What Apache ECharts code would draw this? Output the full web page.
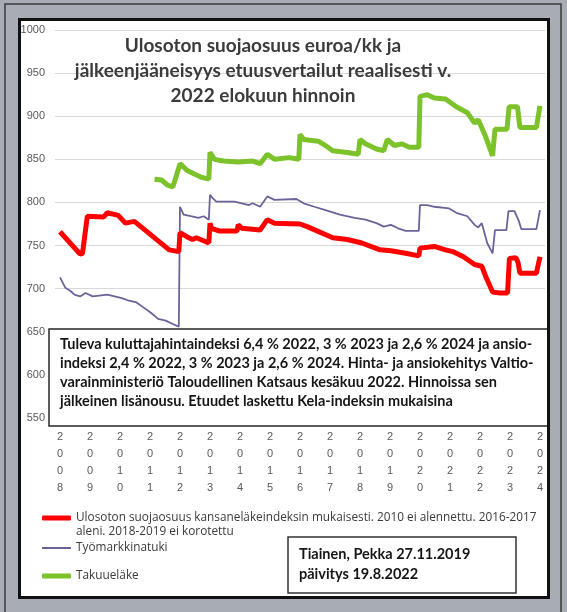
<!DOCTYPE html>
<html>
<head>
<meta charset="utf-8">
<script src="https://cdn.jsdelivr.net/npm/echarts@6/dist/echarts.min.js"></script>
<style>
html,body{margin:0;padding:0;background:#a8adb5;}
#chart{width:567px;height:612px;}
</style>
</head>
<body>
<div id="chart"></div>
<script>
// Tick labels (years) on the x axis
const yearTicks = [2008,2009,2010,2011,2012,2013,2014,2015,2016,2017,2018,2019,2020,2021,2022,2023,2024];

// Series: [year (decimal), euro/month]
const suojaosuus = [
  [2008.0,766],[2008.67,740],[2008.75,741],[2008.91,784],[2009.45,783],[2009.58,788],[2009.94,785],
  [2010.18,776],[2010.48,778],[2011.64,745],[2011.96,743],[2012.0,765],[2012.24,760],[2012.42,757],
  [2012.55,759],[2012.96,753],[2013.0,776],[2013.05,770],[2013.3,767],[2013.9,767],[2013.94,774],
  [2014.06,770],[2014.67,768],[2014.91,780],[2015.15,776],[2016.0,775],[2016.24,772],[2017.09,759],
  [2017.58,757],[2018.06,753],[2018.67,745],[2019.03,744],[2019.52,741],[2019.96,738],[2020.0,747],
  [2020.48,749],[2020.85,745],[2021.09,743],[2021.45,737],[2021.82,728],[2022.06,726],[2022.18,715],
  [2022.42,696],[2022.67,695],[2022.92,695],[2022.98,735],[2023.2,736],[2023.27,730],[2023.33,718],
  [2023.88,718],[2024.0,737]
];
const tyomarkkinatuki = [
  [2008.0,713],[2008.18,701],[2008.36,697],[2008.48,693],[2008.67,691],[2008.85,695],[2009.09,691],
  [2009.58,693],[2009.82,691],[2010.06,689],[2010.3,686],[2010.55,684],[2010.79,678],[2011.03,672],
  [2011.27,665],[2011.52,663],[2011.76,659],[2011.96,656],[2012.0,795],[2012.12,786],[2012.36,784],
  [2012.61,782],[2012.79,784],[2012.96,780],[2013.0,809],[2013.09,805],[2013.21,801],[2013.82,801],
  [2014.06,799],[2014.3,797],[2014.42,799],[2014.67,795],[2014.91,807],[2015.15,803],[2015.88,804],
  [2016.12,799],[2016.48,795],[2016.85,791],[2017.33,786],[2017.82,782],[2018.18,780],[2018.55,776],
  [2018.79,772],[2019.03,774],[2019.27,770],[2019.52,767],[2019.96,767],[2020.0,797],[2020.06,799],
  [2020.24,797],[2020.48,795],[2020.97,793],[2021.21,788],[2021.58,784],[2021.82,774],[2021.94,771],
  [2022.06,776],[2022.24,753],[2022.42,741],[2022.5,768],[2022.88,768],[2022.95,790],[2023.15,790],
  [2023.3,778],[2023.38,769],[2023.88,769],[2024.0,791]
];
const takuuelake = [
  [2011.15,827],[2011.39,826],[2011.58,820],[2011.76,818],[2011.88,831],[2012.0,845],[2012.24,837],
  [2012.48,833],[2012.73,829],[2012.96,827],[2013.0,858],[2013.15,850],[2013.45,848],[2013.94,847],
  [2014.42,848],[2014.67,845],[2014.91,856],[2015.15,850],[2015.64,852],[2015.96,850],[2016.0,879],
  [2016.12,873],[2016.61,871],[2016.85,866],[2017.09,860],[2017.58,858],[2017.94,856],[2018.0,873],
  [2018.18,868],[2018.55,862],[2018.79,860],[2018.91,873],[2019.15,866],[2019.39,868],[2019.64,864],
  [2019.96,864],[2020.0,923],[2020.24,925],[2020.48,921],[2020.85,920],[2021.21,911],[2021.58,904],
  [2021.82,892],[2021.94,896],[2022.18,877],[2022.42,854],[2022.5,885],[2022.9,885],[2022.97,911],
  [2023.25,911],[2023.33,887],[2023.88,887],[2024.0,912]
];

const nameRed = 'Ulosoton suojaosuus kansaneläkeindeksin mukaisesti. 2010 ei alennettu. 2016-2017 aleni. 2018-2019 ei korotettu';
const namePurple = 'Työmarkkinatuki';
const nameGreen = 'Takuueläke';

const titleText = 'Ulosoton suojaosuus euroa/kk ja\njälkeenjääneisyys etuusvertailut reaalisesti v.\n2022 elokuun hinnoin';
const noteText = 'Tuleva kuluttajahintaindeksi 6,4 % 2022, 3 % 2023 ja 2,6 % 2024 ja ansio-\nindeksi 2,4 % 2022, 3 % 2023 ja 2,6 % 2024. Hinta- ja ansiokehitys Valtio-\nvarainministeriö Taloudellinen Katsaus kesäkuu 2022. Hinnoissa sen\njälkeinen lisänousu. Etuudet laskettu Kela-indeksin mukaisina';
const authorText = 'Tiainen, Pekka 27.11.2019\npäivitys 19.8.2022';

const chart = echarts.init(document.getElementById('chart'), null, {renderer:'canvas'});
const legendText = {fontSize:11.8, color:'#3a3a3a', fontFamily:'Open Sans', lineHeight:14};
chart.setOption({
  backgroundColor:'#a8adb5',
  animation:false,
  title:{
    text:titleText, left:258, top:28, textAlign:'center',
    textStyle:{fontFamily:'Lato', fontWeight:'bold', fontSize:19, lineHeight:25, color:'#3b3b3b'}
  },
  grid:{left:55, right:22, top:30, bottom:194, containLabel:false},
  xAxis:{
    type:'value', min:2007.833, max:2024.167,
    axisLine:{show:false}, axisTick:{show:false}, splitLine:{show:false},
    axisLabel:{
      customValues:yearTicks, margin:10, fontSize:11, lineHeight:17, color:'#595959',
      fontFamily:'Liberation Sans',
      formatter:v=>String(Math.round(v)).split('').join('\n')
    }
  },
  yAxis:{
    type:'value', min:550, max:1000, interval:50,
    axisLine:{show:false}, axisTick:{show:false},
    splitLine:{lineStyle:{color:'#d9d9d9', width:1}},
    axisLabel:{margin:10, fontSize:11, color:'#595959', fontFamily:'Liberation Sans', formatter:v=>String(v)}
  },
  legend:[
    {data:[nameRed], orient:'vertical', left:42, top:497, padding:0, itemWidth:29, itemHeight:5, icon:'roundRect',
     formatter:n=>' \n'+n.replace(' aleni.','\naleni.'),
     textStyle:legendText},
    {data:[namePurple], left:42, top:541, padding:0, itemWidth:29, itemHeight:2, icon:'rect', textStyle:legendText},
    {data:[nameGreen], left:42, top:569, padding:0, itemWidth:29, itemHeight:5, icon:'roundRect', textStyle:legendText}
  ],
  series:[
    {name:nameRed, type:'line', data:suojaosuus, symbol:'none', showSymbol:false,
     lineStyle:{color:'#ff0000', width:5}, itemStyle:{color:'#ff0000'}, z:3},
    {name:namePurple, type:'line', data:tyomarkkinatuki, symbol:'none', showSymbol:false,
     lineStyle:{color:'#6d6299', width:1.8}, itemStyle:{color:'#6d6299'}, z:2},
    {name:nameGreen, type:'line', data:takuuelake, symbol:'none', showSymbol:false,
     lineStyle:{color:'#7cc22a', width:5}, itemStyle:{color:'#7cc22a'}, z:2}
  ],
  graphic:[
    {type:'rect', z:-100, silent:true, shape:{x:19, y:19, width:530, height:579}, style:{fill:'#ffffff'}},
    {type:'rect', z:100, silent:true, shape:{x:5, y:4, width:556, height:620}, style:{fill:'none', stroke:'#3a3a3a', lineWidth:1.5}},
    {type:'rect', z:100, silent:true, shape:{x:19.5, y:19.5, width:529, height:578}, style:{fill:'none', stroke:'#111111', lineWidth:3}},
    {type:'rect', z:50, silent:true, shape:{x:49, y:329, width:499, height:97}, style:{fill:'#ffffff', stroke:'#262626', lineWidth:1.5}},
    {type:'text', z:51, silent:true, x:60, y:335, style:{text:noteText, font:'bold 14.5px Lato', lineHeight:19, fill:'#161616'}},
    {type:'rect', z:50, silent:true, shape:{x:288, y:537, width:228, height:56}, style:{fill:'#ffffff', stroke:'#333333', lineWidth:1.5}},
    {type:'text', z:51, silent:true, x:299, y:544, style:{text:authorText, font:'bold 14.5px Lato', lineHeight:20, fill:'#161616'}}
  ]
});
</script>
</body>
</html>
